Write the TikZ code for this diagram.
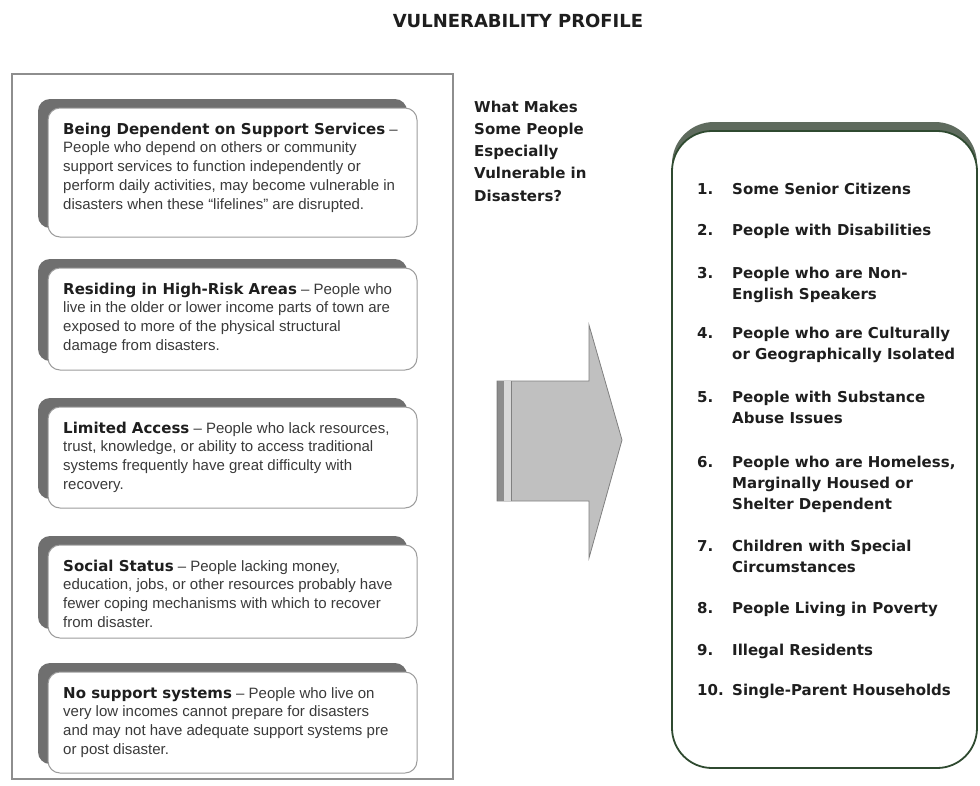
\documentclass[tikz,border=0pt]{standalone}
\usepackage{fontspec}
\setmainfont{Liberation Sans}
\newfontfamily\heavy{DejaVu Sans}
\usepackage{xcolor}
\usepackage{tikz}
\usetikzlibrary{positioning,calc}
\definecolor{ink}{HTML}{1E1E1E}
\definecolor{body}{HTML}{3A3A3A}
\definecolor{frame}{HTML}{8E8E8E}
\definecolor{shade}{HTML}{6F6F6F}
\definecolor{edge}{HTML}{9C9C9C}
\definecolor{leaf}{HTML}{2F4A30}
\definecolor{moss}{HTML}{5F6B5E}
\definecolor{steel}{HTML}{C0C0C0}
\definecolor{rim}{HTML}{808080}
\definecolor{tail}{HTML}{8C8C8C}
\definecolor{pale}{HTML}{D8D8D8}
\newcommand\headtxt[1]{{\heavy\bfseries\color{ink}#1}}

\begin{document}
\begin{tikzpicture}[x=1pt, y=-1pt,
  back/.style={fill=shade, rounded corners=12pt},
  card/.style={fill=white, draw=edge, line width=1pt, rounded corners=12pt},
  txt/.style={anchor=base west, inner sep=0pt, align=left, font=\color{body}\fontsize{15}{18.8}\selectfont},
  num/.style={anchor=base west, inner sep=0pt, font=\heavy\bfseries\color{ink}\fontsize{15}{21}\selectfont},
  item/.style={anchor=base west, inner sep=0pt, align=left, font=\heavy\bfseries\color{ink}\fontsize{15}{21}\selectfont}]
  \useasboundingbox (0,0) rectangle (980,785);
  \def\bw{369}
  \coordinate (box1) at (48,108);
  \coordinate (box2) at (48,268);
  \coordinate (box3) at (48,407);
  \coordinate (box4) at (48,545);
  \coordinate (box5) at (48,672);

  \node[anchor=base, inner sep=0pt, font=\heavy\bfseries\color{ink}\fontsize{18}{20}\selectfont] (title) at (518,27) {VULNERABILITY PROFILE};

  % left panel (text nodes sit on their last line)
  \draw[frame, line width=1.3pt] (12,74) rectangle (453,779);

  \fill[back] ($(box1)+(-10,-9)$) rectangle ++(\bw,129);
  \filldraw[card] (box1) rectangle ++(\bw,129);
  \node[txt] (t1) at ($(box1)+(15,101.2)$) {\headtxt{Being Dependent on Support Services} –\\
    People who depend on others or community\\
    support services to function independently or\\
    perform daily activities, may become vulnerable in\\
    disasters when these “lifelines” are disrupted.};

  \fill[back] ($(box2)+(-10,-9)$) rectangle ++(\bw,102);
  \filldraw[card] (box2) rectangle ++(\bw,102);
  \node[txt] (t2) at ($(box2)+(15,82.4)$) {\headtxt{Residing in High-Risk Areas} – People who\\
    live in the older or lower income parts of town are\\
    exposed to more of the physical structural\\
    damage from disasters.};

  \fill[back] ($(box3)+(-10,-9)$) rectangle ++(\bw,101);
  \filldraw[card] (box3) rectangle ++(\bw,101);
  \node[txt] (t3) at ($(box3)+(15,82.4)$) {\headtxt{Limited Access} – People who lack resources,\\
    trust, knowledge, or ability to access traditional\\
    systems frequently have great difficulty with\\
    recovery.};

  \fill[back] ($(box4)+(-10,-9)$) rectangle ++(\bw,93);
  \filldraw[card] (box4) rectangle ++(\bw,93);
  \node[txt] (t4) at ($(box4)+(15,82.4)$) {\headtxt{Social Status} – People lacking money,\\
    education, jobs, or other resources probably have\\
    fewer coping mechanisms with which to recover\\
    from disaster.};

  \fill[back] ($(box5)+(-10,-9)$) rectangle ++(\bw,101);
  \filldraw[card] (box5) rectangle ++(\bw,101);
  \node[txt] (t5) at ($(box5)+(15,82.4)$) {\headtxt{No support systems} – People who live on\\
    very low incomes cannot prepare for disasters\\
    and may not have adequate support systems pre\\
    or post disaster.};

  % question and arrow
  \node[anchor=base west, inner sep=0pt, align=left, font=\heavy\bfseries\color{ink}\fontsize{15}{22.3}\selectfont] (ask) at (474,201.2) {What Makes\\Some People\\Especially\\Vulnerable in\\Disasters?};

  \filldraw[fill=steel, draw=rim, line width=0.8pt] (497,381) -- (589,381) -- (589,325) -- (622,440) -- (589,558) -- (589,501) -- (497,501) -- cycle;
  \fill[tail] (497,381) rectangle (504,501);
  \fill[pale] (504,381) rectangle (511,501);
  \draw[rim, line width=0.8pt] (511,381) -- (511,501);
  \draw[rim, line width=0.8pt] (497,381) -- (497,501);

  % right list
  \fill[moss, rounded corners=42pt] (672,122) rectangle (977,759);
  \filldraw[fill=white, draw=leaf, line width=1.8pt, rounded corners=40pt] (672,131) rectangle (977,768);

  \node[num] (n1) at (697,194) {1.};
  \node[item] (i1) at (732,194) {Some Senior Citizens};
  \node[num] (n2) at (697,235) {2.};
  \node[item] (i2) at (732,235) {People with Disabilities};
  \node[num] (n3) at (697,278) {3.};
  \node[item] (i3) at (732,299) {People who are Non-\\English Speakers};
  \node[num] (n4) at (697,338) {4.};
  \node[item] (i4) at (732,359) {People who are Culturally\\or Geographically Isolated};
  \node[num] (n5) at (697,402) {5.};
  \node[item] (i5) at (732,423) {People with Substance\\Abuse Issues};
  \node[num] (n6) at (697,467) {6.};
  \node[item] (i6) at (732,509) {People who are Homeless,\\Marginally Housed or\\Shelter Dependent};
  \node[num] (n7) at (697,551) {7.};
  \node[item] (i7) at (732,572) {Children with Special\\Circumstances};
  \node[num] (n8) at (697,613) {8.};
  \node[item] (i8) at (732,613) {People Living in Poverty};
  \node[num] (n9) at (697,655) {9.};
  \node[item] (i9) at (732,655) {Illegal Residents};
  \node[num] (n10) at (697,695) {10.};
  \node[item] (i10) at (732,695) {Single-Parent Households};
\end{tikzpicture}
\end{document}
